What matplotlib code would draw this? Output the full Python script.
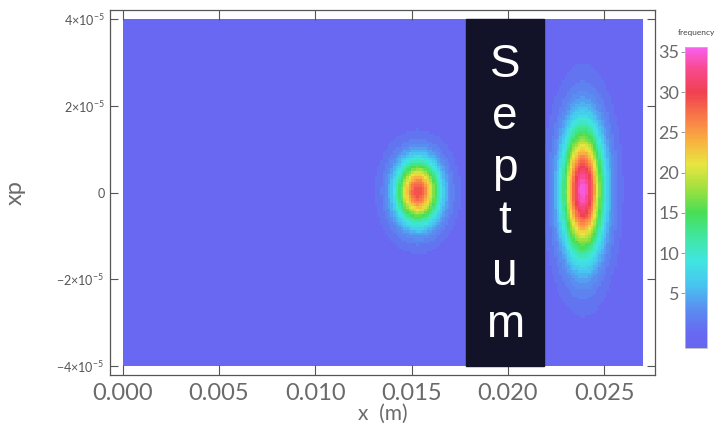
import numpy as np
import matplotlib
matplotlib.use('Agg')
import matplotlib.pyplot as plt
from matplotlib.colors import LinearSegmentedColormap, Normalize
from matplotlib.patches import Rectangle

plt.rcParams['font.family'] = ['Lato', 'DejaVu Sans']
plt.rcParams['mathtext.fontset'] = 'custom'
plt.rcParams['mathtext.rm'] = 'Lato'
plt.rcParams['mathtext.it'] = 'Lato'

# histogram extent and bins
x_range = [0.0, 0.027]
xp_range = [-4e-5, 4e-5]
n_xbins = 200
n_ybins = 130

# beam spots: centre x, centre xp, width x, width xp, peak count
spot_x = [0.01533, 0.02390]
spot_xp = [0.2e-6, 0.5e-6]
spot_sx = [0.00078, 0.00072]
spot_sxp = [5.0e-6, 10.0e-6]
spot_peak = [29.5, 35.0]

# septum edges (m)
septum = [0.0178, 0.0219]

xticks = [0.000, 0.005, 0.010, 0.015, 0.020, 0.025]
yticks = [-4e-5, -2e-5, 0, 2e-5, 4e-5]
ytick_labels = [r'$-4{\times}10^{-5}$', r'$-2{\times}10^{-5}$', '0',
                r'$2{\times}10^{-5}$', r'$4{\times}10^{-5}$']
cbar_ticks = [5, 10, 15, 20, 25, 30, 35]

# colour scale nodes (value, colour)
cmap_vals = [-1.8, 0, 3, 6, 9, 12, 15, 18, 21, 24, 27, 30, 33, 35.6]
cmap_cols = ['#6666f0', '#6868f2', '#5a8ef0', '#48c4f0', '#40e6e0', '#40e6a0',
             '#48de55', '#a0e040', '#e8e640', '#f8b040', '#f87848', '#f04050',
             '#f84a90', '#f860f0']

vmin, vmax = cmap_vals[0], cmap_vals[-1]
cmap = LinearSegmentedColormap.from_list(
    'freq', [((v - vmin) / (vmax - vmin), c) for v, c in zip(cmap_vals, cmap_cols)])
norm = Normalize(vmin, vmax)

xe = np.linspace(x_range[0], x_range[1], n_xbins + 1)
ye = np.linspace(xp_range[0], xp_range[1], n_ybins + 1)
xc = 0.5 * (xe[1:] + xe[:-1])
yc = 0.5 * (ye[1:] + ye[:-1])
X, Y = np.meshgrid(xc, yc)
counts = np.zeros_like(X)
for cx, cy, sx, sy, pk in zip(spot_x, spot_xp, spot_sx, spot_sxp, spot_peak):
    counts += pk * np.exp(-0.5 * (((X - cx) / sx) ** 2 + ((Y - cy) / sy) ** 2))
counts = np.round(counts)

txt = '#6a6a6a'

fig = plt.figure(figsize=(7.2, 4.29), dpi=100)
ax = fig.add_axes([110 / 720, 54 / 429, 545 / 720, 365 / 429])
ax.pcolormesh(xe, ye, counts, cmap=cmap, norm=norm, shading='flat')

ax.add_patch(Rectangle((septum[0], xp_range[0]), septum[1] - septum[0],
                       xp_range[1] - xp_range[0], color='#121228', zorder=3))
xs = 0.5 * (septum[0] + septum[1])
baselines = np.linspace(77, 337, 6)
for ch, yb in zip('Septum', baselines):
    ax.text(xs, (375 - yb) / 365, ch, transform=ax.get_xaxis_transform(),
            ha='center', va='baseline', color='white', fontsize=33,
            family=['Liberation Sans', 'DejaVu Sans'], zorder=4)

ax.set_xlim(-0.00066, 0.02764)
ax.set_ylim(-4.207e-5, 4.207e-5)
ax.set_xticks(xticks)
ax.set_xticklabels(['%.3f' % t for t in xticks])
ax.set_yticks(yticks)
ax.set_yticklabels(ytick_labels)
ax.tick_params(axis='x', direction='in', top=True, length=7, width=0.8,
               colors='#555555', labelsize=17, labelcolor=txt, pad=6)
ax.tick_params(axis='y', direction='in', right=True, length=6, width=0.8,
               colors='#555555', labelsize=9, labelcolor='#555555', pad=4)
for s in ax.spines.values():
    s.set_color('#555555')
    s.set_linewidth(0.9)

ax.set_xlabel('x  (m)', fontsize=15, color=txt, labelpad=0)
ax.set_ylabel('xp', fontsize=17, color=txt, labelpad=22)

cax = fig.add_axes([685 / 720, 81 / 429, 22 / 720, 301 / 429])
cb = fig.colorbar(plt.cm.ScalarMappable(norm=norm, cmap=cmap), cax=cax)
cb.outline.set_edgecolor('#bbbbbb')
cb.outline.set_linewidth(0.6)
cax.yaxis.set_ticks_position('left')
cax.yaxis.set_label_position('left')
cb.set_ticks(cbar_ticks)
cax.tick_params(direction='out', length=3, width=0.6, colors='#888888',
                labelsize=13, labelcolor=txt, pad=1)
fig.text(696 / 720, 1 - 32 / 429, 'frequency', ha='center', va='center',
         fontsize=6, color='#444444')

fig.savefig('out.png', dpi=100)
